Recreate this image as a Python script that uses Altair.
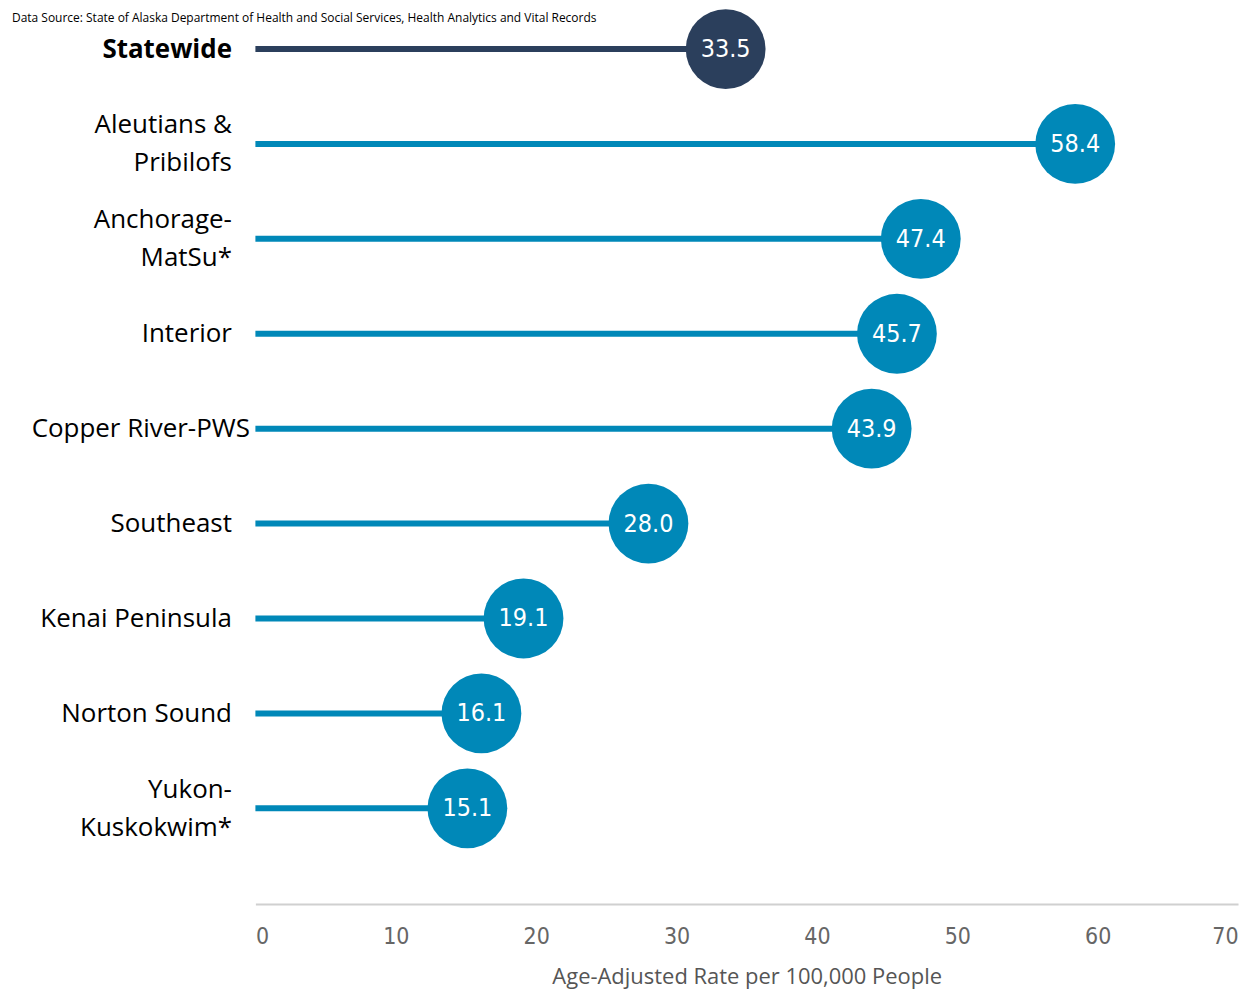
import altair as alt
import pandas as pd

label_lines = ["Statewide", "Aleutians &|Pribilofs", "Anchorage-|MatSu*", "Interior",
               "Copper River-PWS", "Southeast", "Kenai Peninsula", "Norton Sound",
               "Yukon-|Kuskokwim*"]
rates = [33.5, 58.4, 47.4, 45.7, 43.9, 28.0, 19.1, 16.1, 15.1]
groups = ["Statewide", "Region", "Region", "Region", "Region", "Region", "Region",
          "Region", "Region"]
x_ticks = [0, 10, 20, 30, 40, 50, 60, 70]
source_text = ["Data Source: State of Alaska Department of Health and Social Services, "
               "Health Analytics and Vital Records"]

df = pd.DataFrame({"region": label_lines, "rate": rates, "group": groups})
src = pd.DataFrame({"t": source_text})

FONT = "Open Sans"
NARROW = "DejaVu Sans Condensed, sans-serif"

color = alt.Color("group:N", scale=alt.Scale(domain=["Statewide", "Region"],
                                             range=["#2B3F5C", "#0088B8"]), legend=None)
yenc = alt.Y("region:N", sort=label_lines,
             scale=alt.Scale(type="point", padding=0.42),
             axis=alt.Axis(title=None, domain=False, ticks=False, grid=False,
                           labelExpr="split(datum.label, '|')",
                           labelFont=FONT, labelFontSize=26, labelColor="#000000",
                           labelLineHeight=38, labelBaseline="middle",
                           labelFontWeight={"condition": {"test": "datum.value == 'Statewide'", "value": "bold"}, "value": "normal"},
                           labelPadding={"condition": {"test": "datum.value == 'Copper River-PWS'", "value": 6}, "value": 24},
                           labelOffset={"condition": {"test": "indexof(datum.value, '|') >= 0", "value": -19}, "value": 0},
                           labelLimit=400))
xscale = alt.Scale(domain=[0, 70], nice=False)
xaxis = alt.Axis(values=x_ticks, title="Age-Adjusted Rate per 100,000 People", grid=False,
                 ticks=False, domainColor="#d0d0d0", domainWidth=2, offset=56,
                 labelFont=NARROW, labelFontSize=23, labelColor="#666666", labelPadding=22,
                 titleFont=FONT, titleFontSize=22, titleColor="#555555",
                 titleFontWeight="normal", titlePadding=18)

rules = alt.Chart(df).mark_rule(strokeWidth=6).encode(
    x=alt.X("rate:Q", scale=xscale, axis=xaxis), x2=alt.datum(0), y=yenc, color=color)
dots = alt.Chart(df).mark_circle(size=6400, opacity=1).encode(
    x=alt.X("rate:Q", scale=xscale), y=alt.Y("region:N", sort=label_lines), color=color)
labels = alt.Chart(df).mark_text(font=NARROW, fontSize=25, color="white",
                                 align="center", baseline="middle").encode(
    x=alt.X("rate:Q", scale=xscale), y=alt.Y("region:N", sort=label_lines),
    text=alt.Text("rate:Q", format=".1f"))
source = alt.Chart(src).mark_text(font=FONT, fontSize=12, color="#000000", align="left",
                                  baseline="top").encode(
    x=alt.value(-244), y=alt.value(4), text="t:N")

chart = alt.layer(rules, dots, labels, source).properties(
    width=985, height=841,
    autosize=alt.AutoSizeParams(type="none"),
    padding={"left": 248, "top": 0, "right": 14, "bottom": 146},
).configure_view(stroke=None)

chart.save("out.html", embed_options={"renderer": "svg", "actions": False})
